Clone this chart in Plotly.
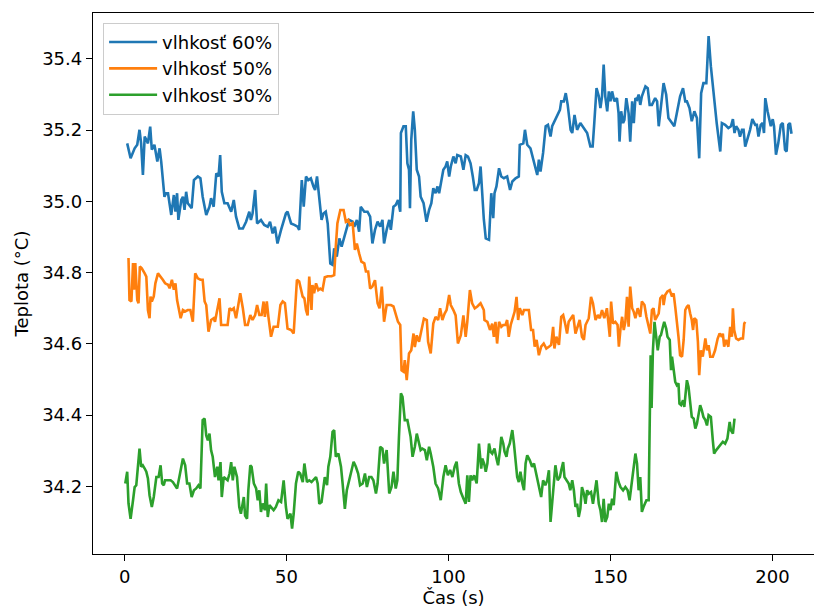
import plotly.graph_objects as go

# Temperature readings (°C) over time (s) for three humidity levels
t60 = [0.8, 1.85, 3.1, 3.9, 4.6, 5.1, 5.65, 6.2, 6.7, 7.2, 7.9, 8.4, 9.2, 10.1, 10.8, 11.3,
       12.3, 12.8, 13.4, 13.9, 14.4, 15.2, 15.7, 16.2, 16.6, 17.5, 18.0, 18.5, 19.0, 19.5,
       20.7, 21.4, 22.6, 23.4, 24.1, 25.2, 26.2, 26.7, 27.5, 28.3, 29.0, 29.5, 30.0, 30.8,
       31.8, 32.9, 33.7, 34.4, 35.4, 36.5, 37.5, 38.5, 39.0, 39.5, 40.3, 40.9, 42.1, 43.1,
       44.2, 44.9, 45.7, 46.4, 47.2, 48.3, 49.1, 49.8, 50.3, 51.4, 52.4, 53.4, 53.9, 54.7,
       55.3, 56.0, 56.7, 57.5, 58.3, 58.8, 59.4, 60.1, 60.8, 61.4, 62.1, 62.7, 63.5, 64.2,
       64.7, 65.5, 66.3, 67.0, 67.8, 68.6, 69.3, 70.4, 70.9, 71.7, 72.4, 72.9, 74.0, 75.0,
       75.8, 76.5, 77.3, 78.1, 78.9, 79.6, 80.1, 80.9, 81.7, 82.2, 83.0, 83.7, 84.4, 85.1,
       85.3, 86.1, 86.8, 87.3, 87.8, 88.1, 88.5, 89.1, 89.6, 90.2, 90.9, 91.4, 92.3, 93.2,
       94.0, 94.7, 95.3, 96.0, 96.6, 97.1, 97.6, 98.4, 99.1, 99.6, 100.2, 100.7, 101.5,
       102.2, 102.7, 103.8, 104.6, 105.3, 106.0, 106.8, 107.5, 108.1, 108.7, 109.4, 109.9,
       110.9, 111.5, 112.5, 113.2, 113.8, 114.2, 114.8, 115.6, 116.3, 117.1, 118.1, 119.0,
       119.7, 120.7, 121.7, 122.0, 123.1, 123.6, 124.3, 125.3, 126.4, 127.4, 127.9, 128.4,
       129.2, 130.0, 130.7, 131.5, 132.0, 133.0, 133.5, 134.4, 134.8, 135.6, 136.2, 136.8,
       137.7, 138.2, 138.9, 139.7, 140.7, 141.8, 142.8, 143.8, 144.5, 145.0, 145.7, 146.4,
       146.9, 147.4, 147.9, 148.4, 149.0, 149.5, 150.0, 150.5, 151.2, 152.0, 152.5, 152.8,
       153.3, 153.9, 154.3, 154.9, 155.6, 156.1, 156.7, 157.2, 157.7, 158.2, 158.7, 159.2,
       159.7, 160.8, 161.5, 162.1, 162.8, 163.8, 164.4, 164.9, 165.6, 166.4, 167.2, 167.9,
       169.0, 169.7, 170.5, 171.5, 172.4, 173.1, 173.6, 174.4, 175.1, 175.9, 176.7, 177.4,
       178.0, 178.7, 179.6, 180.3, 181.0, 181.8, 182.8, 183.9, 184.4, 185.4, 186.4, 187.2,
       187.8, 188.3, 188.8, 189.5, 190.0, 190.6, 191.1, 191.6, 192.3, 193.1, 193.8, 194.7,
       195.2, 195.7, 196.4, 197.0, 197.4, 197.8, 198.5, 199.1, 199.5, 200.1, 200.5, 201.1,
       201.8, 202.6, 203.2, 203.9, 204.4, 204.9, 205.4, 205.9]
v60 = [35.163, 35.121, 35.149, 35.159, 35.201, 35.163, 35.074, 35.182, 35.173, 35.163, 35.210,
       35.145, 35.159, 35.112, 35.149, 35.112, 35.013, 35.023, 35.023, 34.995, 34.962, 35.018,
       34.971, 35.023, 34.948, 35.004, 35.013, 34.976, 35.027, 34.995, 34.981, 35.060, 35.070,
       35.065, 35.013, 34.962, 34.985, 35.009, 34.985, 35.079, 35.070, 35.130, 35.027, 34.995,
       34.995, 34.971, 35.004, 34.957, 34.924, 34.924, 34.943, 34.971, 34.948, 34.966, 35.032,
       34.938, 34.948, 34.934, 34.929, 34.943, 34.910, 34.929, 34.882, 34.920, 34.943, 34.966,
       34.971, 34.938, 34.934, 34.929, 34.920, 35.060, 34.985, 35.070, 35.060, 35.065, 35.042,
       35.032, 35.070, 35.013, 34.948, 34.966, 34.971, 34.938, 34.826, 34.822, 34.868, 34.845,
       34.896, 34.873, 34.901, 34.929, 34.948, 34.943, 34.929, 34.948, 34.915, 34.985, 34.971,
       34.971, 34.957, 34.882, 34.920, 34.943, 34.929, 34.948, 34.882, 34.920, 34.948, 34.920,
       34.985, 34.990, 35.004, 34.971, 35.192, 35.211, 35.211, 35.107, 35.089, 34.981, 35.173,
       35.253, 35.201, 35.089, 35.070, 35.013, 34.995, 34.943, 34.976, 34.995, 35.037, 35.023,
       35.042, 35.023, 35.046, 35.089, 35.098, 35.112, 35.070, 35.098, 35.126, 35.107, 35.130,
       35.126, 35.089, 35.130, 35.126, 35.107, 35.070, 35.032, 35.032, 35.051, 35.098, 34.950,
       34.896, 34.892, 35.023, 34.953, 35.023, 35.042, 35.093, 35.070, 35.065, 35.070, 35.032,
       35.056, 35.065, 35.070, 35.159, 35.163, 35.201, 35.159, 35.149, 35.107, 35.074, 35.117,
       35.084, 35.136, 35.211, 35.215, 35.182, 35.211, 35.229, 35.239, 35.257, 35.281, 35.281,
       35.304, 35.271, 35.201, 35.192, 35.243, 35.201, 35.220, 35.206, 35.192, 35.154, 35.154,
       35.220, 35.318, 35.295, 35.262, 35.295, 35.384, 35.295, 35.253, 35.309, 35.281, 35.309,
       35.281, 35.290, 35.248, 35.168, 35.253, 35.220, 35.229, 35.290, 35.248, 35.168, 35.281,
       35.220, 35.290, 35.286, 35.300, 35.271, 35.295, 35.323, 35.318, 35.271, 35.271, 35.290,
       35.281, 35.211, 35.267, 35.332, 35.300, 35.234, 35.220, 35.211, 35.248, 35.295, 35.318,
       35.281, 35.281, 35.262, 35.225, 35.253, 35.234, 35.121, 35.304, 35.332, 35.332, 35.464,
       35.379, 35.304, 35.220, 35.140, 35.220, 35.215, 35.206, 35.211, 35.231, 35.192, 35.211,
       35.201, 35.182, 35.201, 35.201, 35.154, 35.173, 35.201, 35.231, 35.215, 35.215, 35.182,
       35.215, 35.220, 35.192, 35.290, 35.253, 35.231, 35.211, 35.231, 35.211, 35.131, 35.163,
       35.215, 35.220, 35.145, 35.140, 35.215, 35.220, 35.190]

t50 = [1.2, 1.5, 2.1, 2.6, 2.9, 3.3, 3.9, 4.3, 4.7, 5.3, 6.2, 6.7, 7.2, 7.7, 8.0, 8.4, 9.0,
       9.5, 10.3, 11.1, 11.8, 12.5, 13.4, 13.9, 14.6, 15.2, 15.7, 16.2, 16.6, 17.3, 18.0,
       18.7, 19.5, 20.3, 21.06, 21.8, 22.6, 23.4, 24.1, 24.7, 25.2, 25.9, 26.7, 27.5, 27.9,
       28.6, 29.3, 29.8, 30.8, 31.8, 32.4, 33.1, 33.7, 34.4, 35.1, 35.7, 36.5, 37.2, 38.0,
       38.8, 39.5, 40.3, 40.9, 41.6, 42.3, 42.9, 43.3, 43.9, 44.4, 45.2, 46.0, 47.3, 48.1,
       48.8, 49.5, 50.3, 51.4, 52.2, 53.2, 53.9, 54.96, 55.5, 56.0, 56.5, 57.0, 57.7, 58.0,
       58.5, 59.1, 59.8, 60.4, 61.1, 61.8, 62.7, 63.9, 64.7, 65.2, 65.7, 66.6, 67.6, 68.3,
       69.0, 69.6, 70.4, 71.1, 71.7, 72.4, 73.1, 74.0, 74.5, 75.2, 75.8, 76.5, 77.3, 78.1,
       78.7, 79.4, 80.1, 80.9, 82.2, 83.0, 83.7, 84.4, 85.1, 85.5, 86.1, 86.5, 87.1, 87.8,
       88.5, 89.2, 89.6, 90.2, 90.9, 91.6, 92.4, 93.3, 93.7, 94.5, 95.3, 96.0, 96.8, 97.4,
       98.1, 98.8, 99.4, 100.2, 100.7, 101.5, 102.2, 102.9, 103.8, 104.6, 105.3, 105.8,
       106.6, 107.3, 108.1, 108.9, 109.9, 110.9, 111.1, 112.0, 112.8, 113.5, 114.0, 114.5,
       115.0, 115.6, 116.3, 116.9, 117.6, 118.1, 118.6, 119.2, 120.0, 120.4, 121.0, 121.5,
       122.0, 122.8, 123.3, 124.1, 124.8, 125.5, 126.1, 126.6, 127.2, 127.9, 128.6, 129.4,
       130.2, 131.0, 131.7, 132.3, 132.7, 133.3, 134.1, 134.8, 135.4, 136.1, 136.6, 137.1,
       137.9, 138.5, 139.2, 139.9, 140.5, 141.2, 141.8, 142.3, 142.8, 143.3, 144.0, 144.6,
       145.4, 146.1, 146.7, 147.4, 148.1, 148.9, 149.8, 150.2, 150.8, 151.5, 152.2, 152.6,
       153.1, 153.6, 154.1, 154.6, 155.1, 155.6, 156.1, 156.7, 157.2, 157.7, 158.4, 159.2,
       159.7, 160.5, 161.1, 161.8, 162.3, 162.8, 163.3, 163.8, 164.4, 164.9, 165.4, 166.2,
       166.4, 166.9, 167.6, 168.3, 169.0, 169.5, 170.0, 170.5, 171.0, 171.5, 172.1, 172.6,
       173.1, 173.6, 174.1, 174.6, 175.1, 175.5, 175.9, 176.5, 177.0, 177.4, 177.9, 178.5,
       179.3, 179.8, 180.3, 180.8, 181.6, 182.3, 183.1, 183.7, 184.4, 184.7, 185.1, 185.7,
       186.4, 186.96, 187.5, 187.8, 188.2, 188.8, 189.5, 190.2, 190.9, 191.3, 191.6]
v50 = [34.841, 34.723, 34.719, 34.827, 34.752, 34.827, 34.723, 34.714, 34.817, 34.812, 34.798,
       34.789, 34.695, 34.672, 34.733, 34.719, 34.733, 34.770, 34.798, 34.789, 34.780, 34.770,
       34.766, 34.756, 34.780, 34.752, 34.770, 34.723, 34.705, 34.672, 34.695, 34.691, 34.695,
       34.695, 34.662, 34.798, 34.784, 34.780, 34.780, 34.719, 34.709, 34.634, 34.667, 34.672,
       34.662, 34.695, 34.728, 34.653, 34.653, 34.653, 34.700, 34.695, 34.700, 34.672, 34.709,
       34.742, 34.700, 34.653, 34.653, 34.681, 34.667, 34.681, 34.709, 34.681, 34.681, 34.719,
       34.676, 34.719, 34.676, 34.620, 34.648, 34.648, 34.709, 34.719, 34.714, 34.643, 34.639,
       34.629, 34.780, 34.775, 34.733, 34.728, 34.695, 34.680, 34.789, 34.695, 34.765, 34.742,
       34.770, 34.751, 34.755, 34.751, 34.787, 34.790, 34.790, 34.793, 34.873, 34.939, 34.976,
       34.976, 34.943, 34.948, 34.934, 34.939, 34.864, 34.882, 34.854, 34.831, 34.826, 34.803,
       34.803, 34.755, 34.761, 34.779, 34.714, 34.700, 34.761, 34.662, 34.709, 34.709, 34.705,
       34.686, 34.662, 34.653, 34.526, 34.522, 34.554, 34.498, 34.573, 34.582, 34.629, 34.591,
       34.624, 34.606, 34.639, 34.671, 34.667, 34.606, 34.573, 34.657, 34.676, 34.667, 34.700,
       34.667, 34.685, 34.695, 34.737, 34.709, 34.695, 34.680, 34.601, 34.624, 34.680, 34.620,
       34.662, 34.751, 34.714, 34.700, 34.705, 34.714, 34.695, 34.667, 34.662, 34.639, 34.657,
       34.620, 34.662, 34.601, 34.662, 34.648, 34.653, 34.653, 34.667, 34.620, 34.653, 34.676,
       34.690, 34.732, 34.667, 34.700, 34.681, 34.695, 34.695, 34.695, 34.639, 34.639, 34.592,
       34.611, 34.568, 34.592, 34.601, 34.587, 34.592, 34.597, 34.648, 34.587, 34.620, 34.597,
       34.676, 34.681, 34.653, 34.629, 34.662, 34.672, 34.681, 34.629, 34.648, 34.667, 34.620,
       34.611, 34.653, 34.662, 34.672, 34.732, 34.714, 34.667, 34.681, 34.672, 34.695, 34.672,
       34.700, 34.620, 34.719, 34.657, 34.662, 34.653, 34.592, 34.643, 34.676, 34.639, 34.662,
       34.732, 34.648, 34.761, 34.700, 34.690, 34.672, 34.700, 34.676, 34.719, 34.709, 34.676,
       34.643, 34.629, 34.695, 34.700, 34.667, 34.676, 34.686, 34.728, 34.737, 34.709, 34.737,
       34.747, 34.751, 34.733, 34.742, 34.704, 34.667, 34.620, 34.568, 34.564, 34.611, 34.695,
       34.704, 34.709, 34.686, 34.667, 34.639, 34.672, 34.667, 34.606, 34.512, 34.582, 34.564,
       34.615, 34.582, 34.596, 34.564, 34.564, 34.582, 34.615, 34.629, 34.620, 34.629, 34.592,
       34.611, 34.592, 34.648, 34.620, 34.700, 34.639, 34.615, 34.611, 34.615, 34.615, 34.657,
       34.662]

t30 = [0.2, 0.8, 1.2, 1.85, 2.6, 3.1, 3.6, 4.1, 4.6, 5.1, 5.6, 6.2, 6.7, 7.2, 7.7, 8.4, 9.0,
       9.8, 10.5, 11.1, 11.6, 12.1, 12.5, 13.4, 14.2, 14.9, 15.6, 16.2, 16.9, 18.0, 18.7,
       19.3, 20.0, 20.7, 21.4, 22.1, 22.8, 23.4, 24.1, 24.7, 25.2, 25.7, 26.2, 26.7, 27.2,
       27.9, 28.6, 29.0, 29.6, 30.0, 30.6, 31.3, 31.8, 32.4, 32.9, 33.4, 33.9, 34.7, 35.4,
       35.9, 36.8, 37.2, 37.8, 38.2, 38.8, 39.2, 39.9, 40.6, 41.1, 41.6, 42.1, 42.6, 43.3,
       43.7, 44.2, 44.7, 45.2, 46.0, 46.7, 47.5, 48.3, 49.1, 49.8, 50.3, 51.2, 51.7, 52.2,
       52.9, 53.6, 54.2, 55.0, 55.5, 56.3, 57.0, 57.7, 58.3, 59.1, 59.6, 60.1, 60.8, 61.4,
       61.8, 62.5, 62.9, 63.5, 64.2, 64.7, 65.2, 66.0, 66.8, 67.3, 68.0, 68.6, 69.3, 70.1,
       70.7, 71.4, 72.1, 72.7, 73.5, 74.2, 74.8, 75.5, 76.2, 76.8, 77.6, 78.1, 78.9, 79.6,
       80.1, 80.9, 81.7, 82.4, 83.0, 83.7, 84.2, 84.7, 85.3, 85.8, 86.5, 87.3, 87.8, 88.3,
       88.9, 89.6, 90.2, 90.9, 91.4, 91.9, 92.7, 93.3, 94.0, 94.5, 95.3, 96.0, 96.8, 97.6,
       98.4, 99.1, 99.8, 100.5, 101.2, 101.9, 102.5, 103.2, 103.8, 104.6, 105.3, 105.8,
       106.3, 106.8, 107.3, 107.9, 108.7, 109.4, 109.9, 110.1, 110.4, 111.0, 111.5, 112.0,
       112.5, 113.0, 113.5, 114.2, 114.8, 115.3, 115.9, 116.3, 116.9, 117.3, 117.9, 118.3,
       118.9, 119.7, 120.2, 120.7, 121.2, 121.7, 122.2, 122.8, 123.3, 123.8, 124.3, 125.1,
       125.8, 126.4, 127.2, 127.9, 128.6, 129.2, 129.9, 130.5, 131.0, 131.5, 132.0, 132.5,
       133.0, 133.7, 134.4, 134.8, 135.4, 135.8, 136.4, 137.1, 137.6, 138.2, 138.7, 139.2,
       139.7, 140.2, 140.7, 141.2, 141.8, 142.3, 142.8, 143.3, 144.0, 144.6, 145.0, 145.7,
       146.4, 146.9, 147.4, 147.9, 148.4, 149.0, 149.5, 150.0, 150.5, 151.0, 151.8, 152.5,
       153.1, 153.9, 154.6, 155.3, 155.9, 156.7, 157.2, 157.7, 158.2, 158.7, 159.2, 159.7,
       160.2, 161.1, 161.8, 162.2, 162.4, 162.7, 163.1, 163.6, 164.6, 165.2, 165.6, 166.2,
       166.6, 167.2, 167.6, 168.3, 168.7, 169.0, 169.5, 170.0, 170.5, 171.0, 171.3, 171.8,
       172.4, 172.8, 173.1, 173.6, 174.1, 174.6, 175.1, 175.7, 176.2, 176.7, 177.2, 177.7,
       178.2, 178.7, 179.3, 179.8, 180.3, 181.0, 181.6, 182.0, 182.6, 183.4, 183.9, 184.7,
       185.4, 186.1, 186.8, 187.2, 187.8, 188.3]
v30 = [34.208, 34.241, 34.152, 34.109, 34.161, 34.198, 34.203, 34.245, 34.306, 34.255, 34.259,
       34.250, 34.241, 34.222, 34.175, 34.142, 34.170, 34.226, 34.226, 34.259, 34.208, 34.203,
       34.217, 34.217, 34.217, 34.212, 34.203, 34.194, 34.226, 34.278, 34.259, 34.208, 34.208,
       34.170, 34.189, 34.194, 34.203, 34.194, 34.386, 34.390, 34.343, 34.329, 34.348, 34.301,
       34.283, 34.226, 34.255, 34.217, 34.268, 34.170, 34.226, 34.222, 34.217, 34.236, 34.268,
       34.217, 34.255, 34.226, 34.142, 34.123, 34.170, 34.118, 34.109, 34.189, 34.259, 34.255,
       34.208, 34.194, 34.161, 34.189, 34.128, 34.152, 34.133, 34.208, 34.114, 34.147, 34.142,
       34.133, 34.142, 34.161, 34.156, 34.217, 34.142, 34.109, 34.123, 34.081, 34.123, 34.208,
       34.241, 34.236, 34.212, 34.264, 34.212, 34.217, 34.212, 34.217, 34.226, 34.208, 34.151,
       34.156, 34.203, 34.226, 34.203, 34.255, 34.283, 34.353, 34.358, 34.283, 34.292, 34.255,
       34.208, 34.137, 34.189, 34.217, 34.246, 34.269, 34.255, 34.236, 34.203, 34.208, 34.236,
       34.198, 34.226, 34.226, 34.217, 34.180, 34.208, 34.311, 34.306, 34.264, 34.302, 34.180,
       34.198, 34.241, 34.194, 34.217, 34.339, 34.461, 34.451, 34.386, 34.386, 34.367, 34.339,
       34.283, 34.311, 34.348, 34.325, 34.302, 34.306, 34.302, 34.273, 34.311, 34.292, 34.255,
       34.208, 34.194, 34.161, 34.226, 34.259, 34.231, 34.246, 34.226, 34.255, 34.269, 34.208,
       34.184, 34.166, 34.151, 34.231, 34.156, 34.231, 34.217, 34.231, 34.208, 34.320, 34.273,
       34.250, 34.278, 34.264, 34.241, 34.264, 34.320, 34.297, 34.292, 34.306, 34.278, 34.259,
       34.301, 34.339, 34.320, 34.297, 34.283, 34.306, 34.320, 34.358, 34.320, 34.264, 34.226,
       34.212, 34.241, 34.208, 34.189, 34.264, 34.287, 34.273, 34.255, 34.264, 34.231, 34.208,
       34.170, 34.217, 34.203, 34.217, 34.245, 34.100, 34.151, 34.217, 34.259, 34.217, 34.226,
       34.245, 34.268, 34.226, 34.217, 34.208, 34.189, 34.217, 34.189, 34.142, 34.151, 34.114,
       34.137, 34.198, 34.179, 34.151, 34.189, 34.179, 34.184, 34.151, 34.175, 34.217, 34.151,
       34.133, 34.100, 34.165, 34.100, 34.114, 34.151, 34.133, 34.165, 34.147, 34.241, 34.212,
       34.198, 34.189, 34.198, 34.189, 34.161, 34.226, 34.264, 34.292, 34.264, 34.189, 34.226,
       34.128, 34.142, 34.161, 34.161, 34.418, 34.568, 34.420, 34.580, 34.662, 34.582, 34.620,
       34.625, 34.648, 34.662, 34.643, 34.620, 34.611, 34.526, 34.564, 34.526, 34.493, 34.484,
       34.489, 34.432, 34.428, 34.442, 34.423, 34.451, 34.498, 34.479, 34.442, 34.395, 34.390,
       34.362, 34.376, 34.404, 34.428, 34.414, 34.395, 34.386, 34.371, 34.400, 34.395, 34.329,
       34.292, 34.301, 34.311, 34.315, 34.325, 34.320, 34.334, 34.381, 34.357, 34.348, 34.390]

series = [
    ("vlhkosť 60%", t60, v60, "#1f77b4"),
    ("vlhkosť 50%", t50, v50, "#ff7f0e"),
    ("vlhkosť 30%", t30, v30, "#2ca02c"),
]

FONT = "DejaVu Sans, Verdana, sans-serif"
TXT = 18

fig = go.Figure()
for i, (name, t, v, color) in enumerate(series):
    fig.add_trace(go.Scatter(
        x=t, y=v, mode="lines", name=name, legendgroup=f"g{i}",
        line=dict(color=color, width=2.6),
    ))

axis_common = dict(
    showgrid=False, zeroline=False,
    showline=True, linecolor="black", linewidth=1.3,
    ticks="outside", ticklen=6, tickwidth=1.3, tickcolor="black",
    tickfont=dict(family=FONT, size=TXT, color="black"),
)

fig.update_layout(
    width=814, height=611,
    margin=dict(l=93, r=0, t=13, b=57),
    paper_bgcolor="white", plot_bgcolor="white",
    font=dict(family=FONT, size=TXT, color="black"),
    xaxis=dict(
        range=[-9.76, 212.84], tickvals=[0, 50, 100, 150, 200],
        mirror=True,
        title=dict(text="Čas (s)", font=dict(family=FONT, size=TXT), standoff=4),
        **axis_common,
    ),
    yaxis=dict(
        range=[34.010, 35.529], tickvals=[34.2, 34.4, 34.6, 34.8, 35.0, 35.2, 35.4],
        ticktext=["34.2", "34.4", "34.6", "34.8", "35.0", "35.2", "35.4"],
        title=dict(text="Teplota (°C)", font=dict(family=FONT, size=TXT), standoff=8),
        **axis_common,
    ),
    legend=dict(
        x=0.014, y=0.982, xanchor="left", yanchor="top",
        bgcolor="rgba(255,255,255,0.8)", bordercolor="#cccccc", borderwidth=1,
        font=dict(family=FONT, size=TXT, color="black"),
        itemwidth=48, tracegroupgap=0,
    ),
    showlegend=True,
)

fig.write_html("out.html")
